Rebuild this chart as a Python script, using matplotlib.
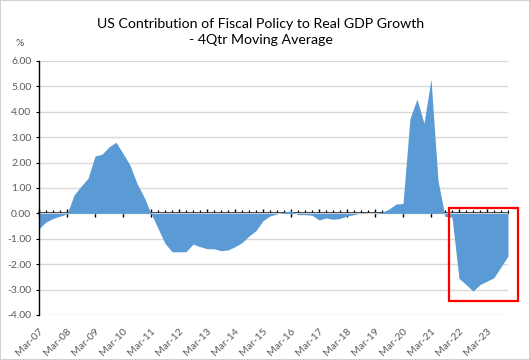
import matplotlib
matplotlib.use("Agg")
import matplotlib.pyplot as plt
from matplotlib.patches import Rectangle
from matplotlib.ticker import MultipleLocator, FixedLocator, FuncFormatter
import numpy as np

# ---------------- data ----------------
quarters = [f"{m}-{y:02d}" for y in range(7, 24) for m in ("Mar", "Jun", "Sep", "Dec")]
values = [
    -0.60, -0.34, -0.20, -0.11,   # 2007
    -0.02, 0.72, 1.07, 1.38,      # 2008
    2.26, 2.33, 2.62, 2.80,       # 2009
    2.36, 1.90, 1.18, 0.65,       # 2010
    0.00, -0.59, -1.18, -1.51,    # 2011
    -1.51, -1.51, -1.21, -1.31,   # 2012
    -1.39, -1.39, -1.47, -1.44,   # 2013
    -1.31, -1.15, -0.89, -0.68,   # 2014
    -0.29, -0.10, -0.02, 0.05,    # 2015
    0.10, -0.05, -0.05, -0.07,    # 2016
    -0.26, -0.18, -0.23, -0.20,   # 2017
    -0.10, -0.05, 0.02, 0.00,     # 2018
    0.00, 0.04, 0.17, 0.37,       # 2019
    0.39, 3.74, 4.50, 3.55,       # 2020
    5.29, 1.30, -0.12, -0.15,     # 2021
    -2.56, -2.80, -3.06, -2.80,   # 2022
    -2.67, -2.53, -2.10, -1.68,   # 2023
]
label_every = 4
title = "US Contribution of Fiscal Policy to Real GDP Growth\n- 4Qtr Moving Average"
y_unit = "%"

# ---------------- style ----------------
plt.rcParams["font.family"] = ["Lato", "DejaVu Sans"]
text_col = "#595959"
fill_col = "#5B9BD5"
grid_col = "#D9D9D9"

fig = plt.figure(figsize=(5.3, 3.6), dpi=100, facecolor="white",
                 edgecolor="#D0D0D0", linewidth=1.2)
ax = fig.add_axes([39 / 530, 1 - 315 / 360, 469 / 530, 254 / 360])

x = np.arange(len(values))
ax.fill_between(x, values, 0, color=fill_col, linewidth=0, zorder=2)

ax.set_xlim(x[0], x[-1])
ax.set_ylim(-4, 6)
ax.yaxis.set_major_locator(MultipleLocator(1))
ax.yaxis.set_major_formatter(FuncFormatter(lambda v, p: f"{v:.2f}"))
ax.grid(axis="y", color=grid_col, linewidth=1.0, zorder=0)
ax.set_axisbelow(True)

for s in ("top", "right", "bottom"):
    ax.spines[s].set_visible(False)
ax.spines["left"].set_color("black")
ax.spines["left"].set_linewidth(1.0)
ax.tick_params(axis="y", direction="out", length=2.5, width=0.8, color="black",
               labelsize=7.5, labelcolor=text_col, pad=3)

# category labels at the bottom
major_idx = x[::label_every]
ax.xaxis.set_major_locator(FixedLocator(major_idx))
ax.set_xticklabels([quarters[i] for i in major_idx], rotation=45, ha="right",
                   rotation_mode="anchor", fontsize=7.5, color=text_col)
ax.tick_params(axis="x", length=0, pad=8)

# horizontal category axis crossing at zero
sec = ax.secondary_xaxis(0, transform=ax.transData)
sec.spines["bottom"].set_color("black")
sec.spines["bottom"].set_linewidth(1.2)
sec.xaxis.set_major_locator(FixedLocator(major_idx))
sec.xaxis.set_minor_locator(FixedLocator(x))
sec.tick_params(axis="x", which="major", direction="inout", length=5.5, width=1.0,
                color="black", labelbottom=False)
sec.tick_params(axis="x", which="minor", direction="in", length=2.5, width=0.9,
                color="black")

# title and unit
fig.text(0.492, 0.95, title, ha="center", va="top", fontsize=10.2,
         color="black", linespacing=1.4)
fig.text(20 / 530, 1 - 43 / 360, y_unit, ha="center", va="center", fontsize=7.5,
         color=text_col)

# red highlight box
box = Rectangle((58.6, -3.43), 9.8, 3.64, fill=False, edgecolor="#FF0000",
                linewidth=1.6, clip_on=False, zorder=5)
ax.add_patch(box)

fig.savefig("out.png", dpi=100)
